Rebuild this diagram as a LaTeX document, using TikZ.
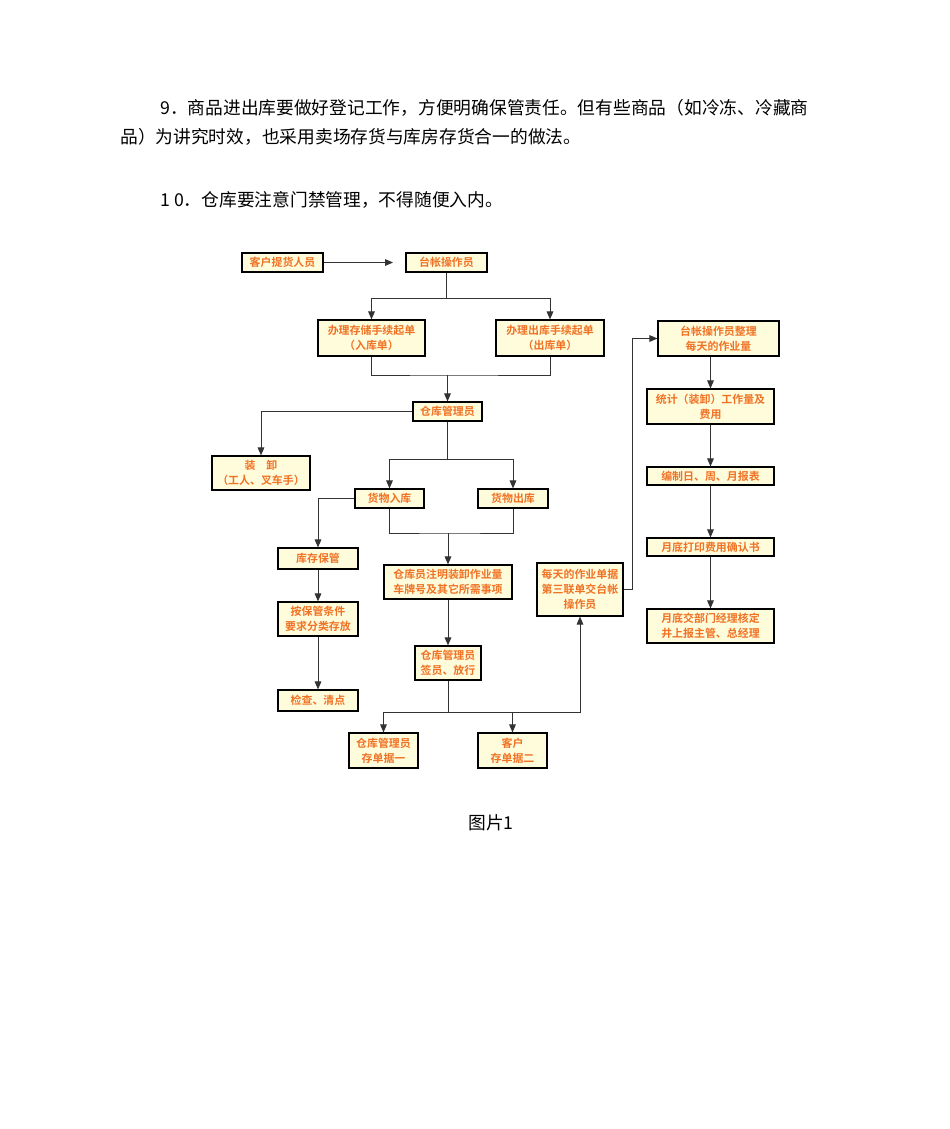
\documentclass[tikz,border=0pt]{standalone}
\usepackage{fontspec}
\setmainfont{Noto Sans CJK SC}
\newfontfamily\boxfont{Noto Sans CJK SC Bold}
\usetikzlibrary{arrows.meta}
\definecolor{boxfill}{HTML}{FFFCDC}
\definecolor{boxtext}{HTML}{F07224}
\definecolor{linec}{HTML}{333333}
\tikzset{
  box/.style={draw=black,line width=0.9pt,fill=boxfill,text=boxtext,inner sep=0pt,align=center,
    font=\boxfont\fontsize{8.2}{11}\selectfont},
  conn/.style={draw=linec,line width=0.7pt},
  arr/.style={conn,-{Triangle[length=6pt,width=5pt]}},
  para/.style={anchor=west,inner sep=0pt,font=\fontsize{13.3}{16}\selectfont}
}
\begin{document}
\begin{tikzpicture}[x=0.75pt,y=-0.75pt]
\useasboundingbox (0,0) rectangle (950,1129);
\fill[white] (0,0) rectangle (950,1129);
\node[para] (p1) at (160,108) {9．商品进出库要做好登记工作，方便明确保管责任。但有些商品（如冷冻、冷藏商};
\node[para] (p2) at (120,137) {品）为讲究时效，也采用卖场存货与库房存货合一的做法。};
\node[para] (p3) at (160,200) {1 0．仓库要注意门禁管理，不得随便入内。};
\node[para,anchor=center] (cap) at (491,823) {图片1};

\node[box,minimum width=60.75pt,minimum height=14.25pt] (kh) at (282.5,262.5) {客户提货人员};
\node[box,minimum width=60.75pt,minimum height=14.25pt] (tz) at (446.5,262.5) {台帐操作员};
\node[box,minimum width=80.25pt,minimum height=27pt] (rk) at (371.5,338) {办理存储手续起单\\（入库单）};
\node[box,minimum width=81pt,minimum height=27pt] (ck) at (550,338) {办理出库手续起单\\（出库单）};
\node[box,minimum width=51.75pt,minimum height=14.25pt] (gl) at (447.5,411.5) {仓库管理员};
\node[box,minimum width=73.5pt,minimum height=25.5pt] (zx) at (261,473) {装\quad 卸\\（工人、叉车手）};
\node[box,minimum width=51.75pt,minimum height=14.25pt] (hr) at (389.5,498.5) {货物入库};
\node[box,minimum width=52.5pt,minimum height=14.25pt] (hc) at (513,498.5) {货物出库};
\node[box,minimum width=60pt,minimum height=15.75pt] (kc) at (318,558.5) {库存保管};
\node[box,minimum width=60pt,minimum height=25.5pt] (ab) at (318,619) {按保管条件\\要求分类存放};
\node[box,minimum width=60pt,minimum height=15.75pt] (jc) at (318,700.5) {检查、清点};
\node[box,minimum width=96pt,minimum height=25.5pt] (zm) at (448,582) {仓库员注明装卸作业量\\车牌号及其它所需事项};
\node[box,minimum width=49.5pt,minimum height=25.5pt] (qy) at (448,663) {仓库管理员\\签员、放行};
\node[box,minimum width=51.75pt,minimum height=26.25pt] (d1) at (383.5,750.5) {仓库管理员\\存单据一};
\node[box,minimum width=51.75pt,minimum height=26.25pt] (d2) at (512.5,750.5) {客户\\存单据二};
\node[box,minimum width=64.5pt,minimum height=39.75pt] (mt) at (580,589.5) {每天的作业单据\\第三联单交台帐\\操作员};
\node[box,minimum width=90.75pt,minimum height=26.25pt] (zl) at (718.5,338.5) {台帐操作员整理\\每天的作业量};
\node[box,minimum width=95.25pt,minimum height=26.25pt] (tj) at (710.5,406.5) {统计（装卸）工作量及\\费用};
\node[box,minimum width=95.25pt,minimum height=13.5pt] (bz) at (710.5,476) {编制日、周、月报表};
\node[box,minimum width=95.25pt,minimum height=13.5pt] (yd) at (710.5,547) {月底打印费用确认书};
\node[box,minimum width=95.25pt,minimum height=25.5pt] (yj) at (710.5,626) {月底交部门经理核定\\井上报主管、总经理};

\coordinate (khend) at (393,262.5);
\draw[arr] (kh) -- (khend);
\coordinate (j0) at (446.5,298);
\draw[conn] (tz.south) -- (j0);
\draw[arr] (j0) -| (rk.north);
\draw[arr] (j0) -| (ck.north);
\coordinate (j1) at (447.5,375);
\draw[conn] (rk.south) |- (j1) -| (ck.south);
\draw[arr] (j1) -- (gl.north);
\draw[arr] (gl.west) -| (zx.north);
\coordinate (j2) at (447.5,459);
\draw[conn] (gl.south) -- (j2);
\draw[arr] (j2) -| (hr.north);
\draw[arr] (j2) -| (hc.north);
\draw[arr] (hr.west) -| (kc.north);
\coordinate (j3) at (448,533);
\draw[conn] (hr.south) |- (j3) -| (hc.south);
\draw[arr] (j3) -- (zm.north);
\draw[arr] (kc) -- (ab);
\draw[arr] (ab) -- (jc);
\draw[arr] (zm) -- (qy);
\coordinate (j4) at (448,712);
\draw[conn] (qy.south) -- (j4);
\draw[arr] (j4) -| (d1.north);
\draw[arr] (j4) -| (d2.north);
\draw[arr] (j4) -| (mt.south);
\coordinate (j5) at (632,589.5);
\draw[arr] (mt.east) -- (j5) |- (zl.west);
\draw[arr] (zl.south -| tj.north) -- (tj.north);
\draw[arr] (tj) -- (bz);
\draw[arr] (bz) -- (yd);
\draw[arr] (yd) -- (yj);
\end{tikzpicture}
\end{document}
